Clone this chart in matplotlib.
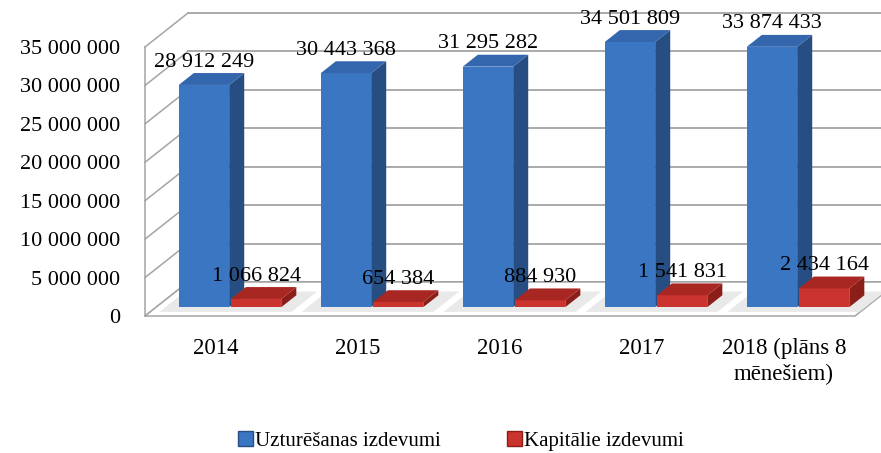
import numpy as np
import matplotlib.pyplot as plt
from matplotlib.patches import Polygon, Patch

# -------------------------------------------------
# data
# -------------------------------------------------
years = ["2014", "2015", "2016", "2017", "2018 (plāns 8\nmēnešiem)"]
uzturesanas = [28912249, 30443368, 31295282, 34501809, 33874433]
kapitalie = [1066824, 654384, 884930, 1541831, 2434164]
series_names = ["Uzturēšanas izdevumi", "Kapitālie izdevumi"]
y_ticks = np.arange(0, 35000001, 5000000)

plt.rcParams['font.family'] = ['Liberation Serif', 'DejaVu Serif']


def fmt(v):
    return f"{v:,.0f}".replace(",", " ")


fig = plt.figure(figsize=(8.81, 4.53), dpi=100)
ax = fig.add_axes([145 / 881, 137 / 453, 710 / 881, 269 / 453])
ax.set_xlim(0, len(years))
ax.set_ylim(0, y_ticks[-1])
for s in ax.spines.values():
    s.set_visible(False)

# depth of the whole floor in pixels (pseudo 3d)
DX, DY = 43, 34


def back(x, y, d):
    px, py = ax.transData.transform((x, y))
    return tuple(ax.transData.inverted().transform((px + d * DX, py + d * DY)))


def poly(pts, color, z, **kw):
    ax.add_patch(Polygon(pts, closed=True, facecolor=color, edgecolor=kw.pop("ec", "none"),
                         zorder=z, clip_on=False, **kw))


wall = "#a4a4a4"
xr = len(years)

# back wall gridlines + left wall lines
for t in y_ticks:
    p0 = back(0, t, 1)
    p1 = back(xr + 1, t, 1)
    ax.plot([p0[0], p1[0]], [p0[1], p1[1]], color=wall, lw=1.3, zorder=1, clip_on=False)
    f = back(0, t, 0)
    ax.plot([f[0], p0[0]], [f[1], p0[1]], color=wall, lw=1.1, zorder=1, clip_on=False)

# left wall front edge
ax.plot([0, 0], [0, y_ticks[-1]], color=wall, lw=1.1, zorder=1, clip_on=False)

# floor
floor = [back(0, 0, 0), back(xr, 0, 0), back(xr, 0, 1), back(0, 0, 1)]
poly(floor, "white", 1.5, ec=wall, lw=1.1)

# -------------------------------------------------
# bars
# -------------------------------------------------
d0, dt = 0.26, 0.35
w, gap = 0.355, 0.012

colors = [
    ("#3b76c2", "#264e82", "#3466ad"),   # front, side, top
    ("#cb342e", "#8c1e1a", "#a92722"),
]


def bar3d(x0, x1, v, cols, z):
    front, side, top = cols
    poly([back(x0, 0, d0), back(x1, 0, d0), back(x1, v, d0), back(x0, v, d0)], front, z)
    poly([back(x1, 0, d0), back(x1, 0, d0 + dt), back(x1, v, d0 + dt), back(x1, v, d0)], side, z)
    poly([back(x0, v, d0), back(x1, v, d0), back(x1, v, d0 + dt), back(x0, v, d0 + dt)], top, z)


for i in range(len(years)):
    c = i + 0.52
    # soft shadow on the floor under the cluster
    sx0, sx1 = c - w - 0.1, c + w + 0.12
    poly([back(sx0, 0, 0.12), back(sx1, 0, 0.12), back(sx1, 0, 0.72), back(sx0, 0, 0.72)],
         "#e9e9e9", 1.6)
    for k, vals in enumerate([uzturesanas, kapitalie]):
        x0 = c - w - gap / 2 if k == 0 else c + gap / 2
        x1 = x0 + w
        v = vals[i]
        bar3d(x0, x1, v, colors[k], 3 + i * 2 + k)
        lx, ly = back((x0 + x1) / 2, v, d0)
        ax.annotate(fmt(v), (lx, ly), xytext=(0, 16.5), textcoords="offset points",
                    ha="center", va="center", fontsize=16, zorder=20,
                    annotation_clip=False)

# -------------------------------------------------
# axes text
# -------------------------------------------------
ax.set_yticks(y_ticks)
ax.set_yticklabels([fmt(t) for t in y_ticks], fontsize=16)
ax.set_xticks(np.arange(len(years)) + 0.5)
ax.set_xticklabels(years, fontsize=16.5, linespacing=1.25)
ax.tick_params(axis="y", length=0, pad=18)
ax.tick_params(axis="x", length=0, pad=16)

handles = [Patch(facecolor=colors[0][0], edgecolor="#264e82"),
           Patch(facecolor=colors[1][0], edgecolor="#8c1e1a")]
fig.legend(handles, series_names, loc="center", bbox_to_anchor=(461 / 881, 1 - 441 / 453),
           ncol=2, frameon=False, fontsize=15, handlelength=0.7, handleheight=0.7,
           handletextpad=0.1, columnspacing=3.2)

fig.savefig("out.png", dpi=100)
